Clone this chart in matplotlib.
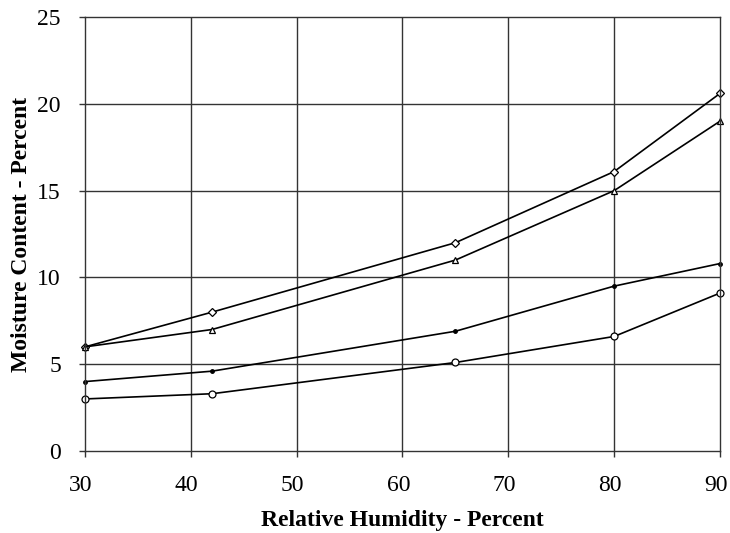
import matplotlib
matplotlib.use("Agg")
import matplotlib.pyplot as plt
from matplotlib.transforms import ScaledTranslation

rh = [30, 42, 65, 80, 90]
s_diamond = [6.0, 8.0, 12.0, 16.1, 20.6]
s_triangle = [6.0, 7.0, 11.0, 15.0, 19.0]
s_dot = [4.0, 4.6, 6.9, 9.5, 10.8]
s_circle = [3.0, 3.3, 5.1, 6.6, 9.1]

plt.rcParams['font.family'] = ['Liberation Serif', 'DejaVu Serif']

fig = plt.figure(figsize=(7.3, 5.33), dpi=100)
ax = fig.add_axes([0.1164, 0.1538, 0.8699, 0.8142])

for x in [40, 50, 60, 70, 80]:
    ax.axvline(x, color='#333333', lw=1.0, zorder=0)
for y in [5, 10, 15, 20]:
    ax.axhline(y, color='#333333', lw=1.0, zorder=0)

kw = dict(color='black', lw=1.2, mfc='white', mec='black', mew=0.9, clip_on=False)
ax.plot(rh, s_diamond, marker='D', ms=4, **kw)
ax.plot(rh, s_triangle, marker='^', ms=5, **kw)
ax.plot(rh, s_dot, marker='o', ms=2.5, color='black', lw=1.2, mfc='black', mec='black', clip_on=False)
ax.plot(rh, s_circle, marker='o', ms=5, **kw)

ax.set_xlim(30, 90)
ax.set_ylim(0, 25)
ax.set_xticks([30, 40, 50, 60, 70, 80, 90])
ax.set_yticks([0, 5, 10, 15, 20, 25])
ax.tick_params(axis='both', direction='out', length=4.3, width=1.0, color='#333333',
               labelsize=17, labelcolor='black')
ax.tick_params(axis='x', pad=13)
ax.tick_params(axis='y', pad=13)
for sp in ax.spines.values():
    sp.set_color('#333333')
    sp.set_linewidth(1.0)

shift = ScaledTranslation(-4 / 100, 0, fig.dpi_scale_trans)
for lbl in ax.get_xticklabels():
    lbl.set_transform(lbl.get_transform() + shift)

ax.set_xlabel('Relative Humidity - Percent', fontsize=17, fontweight='bold', labelpad=10)
ax.set_ylabel('Moisture Content - Percent', fontsize=17, fontweight='bold', labelpad=4)

fig.savefig('out.png', dpi=100)
